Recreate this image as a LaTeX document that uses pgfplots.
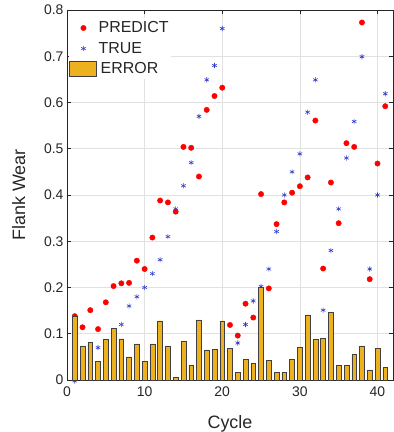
\documentclass[border=0pt]{standalone}
\usepackage{pgfplots}
\pgfplotsset{compat=1.18}
\usepackage{pgfplotstable}
\usepackage{fontspec}
\setmainfont{Liberation Sans}
\definecolor{txt}{RGB}{38,38,38}
\definecolor{barc}{RGB}{237,177,32}
\definecolor{trueblue}{RGB}{50,60,200}
\definecolor{gridc}{RGB}{225,225,225}
\pgfplotstableread{
i pred true err
1 0.138 -0.002 0.138
2 0.114 0.040 0.074
3 0.151 0.070 0.081
4 0.110 0.070 0.040
5 0.168 0.080 0.088
6 0.203 0.091 0.112
7 0.209 0.120 0.089
8 0.210 0.160 0.050
9 0.258 0.180 0.078
10 0.240 0.200 0.040
11 0.308 0.230 0.078
12 0.388 0.260 0.128
13 0.384 0.310 0.074
14 0.364 0.370 0.006
15 0.504 0.420 0.084
16 0.502 0.470 0.032
17 0.440 0.570 0.130
18 0.584 0.649 0.065
19 0.614 0.680 0.066
20 0.632 0.760 0.128
21 0.119 0.051 0.068
22 0.096 0.080 0.016
23 0.165 0.120 0.045
24 0.135 0.171 0.036
25 0.402 0.202 0.200
26 0.198 0.240 0.042
27 0.337 0.321 0.016
28 0.384 0.400 0.016
29 0.405 0.450 0.045
30 0.419 0.489 0.070
31 0.438 0.579 0.141
32 0.561 0.649 0.088
33 0.241 0.151 0.090
34 0.427 0.280 0.147
35 0.339 0.370 0.031
36 0.512 0.480 0.032
37 0.504 0.559 0.055
38 0.773 0.699 0.074
39 0.218 0.240 0.022
40 0.468 0.400 0.068
41 0.592 0.619 0.027
}\datatab
\begin{document}
\begin{tikzpicture}
\begin{axis}[
  set layers,
  scale only axis,
  width=326bp, height=370bp,
  xmin=0, xmax=42, ymin=0, ymax=0.8,
  xtick={0,10,20,30,40},
  ytick={0,0.1,0.2,0.3,0.4,0.5,0.6,0.7,0.8},
  yticklabel style={/pgf/number format/fixed,/pgf/number format/precision=1},
  xticklabel style={yshift=-3bp},
  /pgf/number format/assume math mode=true,
  tick label style={font=\fontsize{14}{16}\selectfont, text=txt},
  label style={font=\fontsize{18}{20}\selectfont, text=txt},
  xlabel={Cycle}, ylabel={Flank Wear},
  xlabel style={yshift=-12bp},
  ylabel style={yshift=12bp},
  tick align=inside,
  major tick length=4bp,
  axis line style={txt, line width=0.5bp},
  every tick/.style={txt, line width=0.5bp},
  grid=major,
  major grid style={gridc, line width=0.5bp},
  clip=false,
  legend cell align=left,
  legend style={at={(rel axis cs:0,1)}, anchor=north west, xshift=2bp, yshift=-8bp,
    draw=none, fill=white, font=\fontsize{16}{18}\selectfont, text=txt,
    inner xsep=0bp, inner ysep=1bp, row sep=3bp,
    nodes={inner xsep=2bp, inner ysep=2.5bp}},
]
\addplot[only marks, mark=*, mark size=2.7bp, color=red, fill=red,
  legend image code/.code={\draw[mark=*, mark size=2.7bp, red, fill=red] plot coordinates {(14bp,0bp)};}]
  table[x=i, y=pred] {\datatab};
\addlegendentry{PREDICT}
\addplot[only marks, mark=asterisk, mark size=2.6bp, color=trueblue, line width=0.6bp,
  legend image code/.code={\draw[mark=asterisk, mark size=2.6bp, trueblue, line width=0.6bp] plot coordinates {(14bp,0bp)};}]
  table[x=i, y=true] {\datatab};
\addlegendentry{TRUE}
\addplot[ybar, bar width=0.62, fill=barc, draw=black!75, line width=0.5bp, on layer=axis foreground,
  legend image code/.code={\draw[fill=barc, draw=black!75, line width=0.5bp] (0bp,-7.5bp) rectangle (27bp,7.5bp);}]
  table[x=i, y=err] {\datatab};
\addlegendentry{\hspace{2bp}ERROR}
\coordinate (bl) at (rel axis cs:0,0);
\coordinate (tr) at (rel axis cs:1,1);
\end{axis}
\pgfresetboundingbox
\path ([shift={(-67bp,-52bp)}]bl) rectangle ([shift={(1bp,10bp)}]tr);
\end{tikzpicture}
\end{document}
